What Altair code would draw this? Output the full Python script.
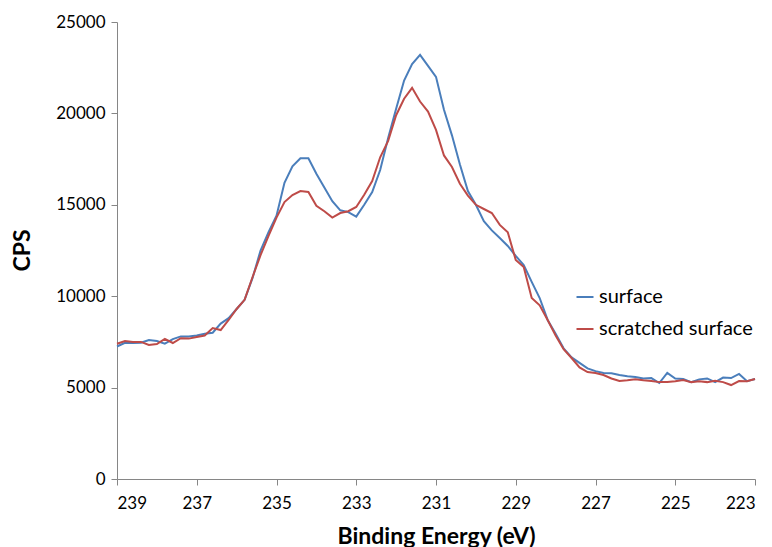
import altair as alt
import pandas as pd

energy = [round(239 - 0.2 * i, 1) for i in range(81)]

surface = [
    7250, 7450, 7440, 7450, 7600, 7550, 7400, 7650, 7800, 7800,
    7850, 7950, 8000, 8500, 8800, 9300, 9800, 11000, 12500, 13500,
    14400, 16200, 17100, 17550, 17550, 16700, 15950, 15200, 14700, 14600,
    14350, 15000, 15700, 16900, 18650, 20250, 21800, 22700, 23200, 22600,
    22000, 20200, 18800, 17200, 15750, 15000, 14100, 13600, 13180, 12750,
    12200, 11700, 10780, 9900, 8700, 7950, 7150, 6650, 6350, 6050,
    5900, 5800, 5780, 5690, 5620, 5580, 5500, 5520, 5250, 5800,
    5500, 5470, 5300, 5450, 5500, 5300, 5550, 5520, 5750, 5350,
    5470,
]

scratched = [
    7400, 7550, 7500, 7500, 7330, 7380, 7660, 7440, 7700, 7680,
    7770, 7850, 8260, 8150, 8700, 9300, 9800, 11050, 12250, 13300,
    14300, 15150, 15530, 15750, 15700, 14950, 14650, 14300, 14550, 14650,
    14880, 15550, 16300, 17600, 18500, 19900, 20800, 21400, 20650, 20100,
    19100, 17700, 17070, 16150, 15500, 15000, 14770, 14550, 13900, 13500,
    11980, 11600, 9900, 9500, 8700, 7850, 7100, 6620, 6100, 5850,
    5800, 5690, 5500, 5360, 5400, 5450, 5400, 5360, 5300, 5300,
    5350, 5410, 5300, 5350, 5300, 5380, 5300, 5140, 5360, 5350,
    5470,
]

series_names = ["surface", "scratched surface"]
series_colors = ["#4A7EBB", "#BE4B48"]
x_ticks = [239, 237, 235, 233, 231, 229, 227, 225, 223]
y_ticks = [0, 5000, 10000, 15000, 20000, 25000]

df = pd.concat([
    pd.DataFrame({"E": energy, "CPS": surface, "series": series_names[0]}),
    pd.DataFrame({"E": energy, "CPS": scratched, "series": series_names[1]}),
])

FONT = "Lato"

chart = alt.Chart(df).mark_line(strokeWidth=2).encode(
    x=alt.X("E:Q",
            scale=alt.Scale(domain=[223, 239], reverse=True, nice=False, zero=False),
            axis=alt.Axis(values=x_ticks, title="Binding Energy (eV)", grid=False,
                          format="d", tickSize=6, labelPadding=10,
                          titleX=319, titleY=57, titleBaseline="middle")),
    y=alt.Y("CPS:Q",
            scale=alt.Scale(domain=[0, 25000], nice=False),
            axis=alt.Axis(values=y_ticks, title="CPS", grid=False, format="d",
                          tickSize=6, labelPadding=6,
                          titleX=-95, titleY=228, titleAngle=-90,
                          titleAlign="center", titleBaseline="middle")),
    color=alt.Color("series:N",
                    scale=alt.Scale(domain=series_names, range=series_colors),
                    sort=series_names,
                    legend=alt.Legend(title=None, orient="none", legendX=458, legendY=265,
                                      symbolType="stroke", symbolSize=289,
                                      symbolStrokeWidth=2, rowPadding=12,
                                      labelFontSize=20, labelFont=FONT,
                                      labelColor="#000000", labelOffset=4)),
    order=alt.value(0),
).properties(
    width=638,
    height=457,
    autosize=alt.AutoSizeParams(type="none"),
    padding={"left": 109, "top": 14, "right": 9, "bottom": 80},
).configure_view(
    stroke=None
).configure_axis(
    domainColor="#868686",
    tickColor="#868686",
    labelFont=FONT,
    labelFontSize=17,
    labelColor="#000000",
    titleFont=FONT,
    titleFontSize=23,
    titleFontWeight="bold",
    titleColor="#000000",
)

chart.save("out.html", embed_options={"renderer": "svg", "actions": False})
